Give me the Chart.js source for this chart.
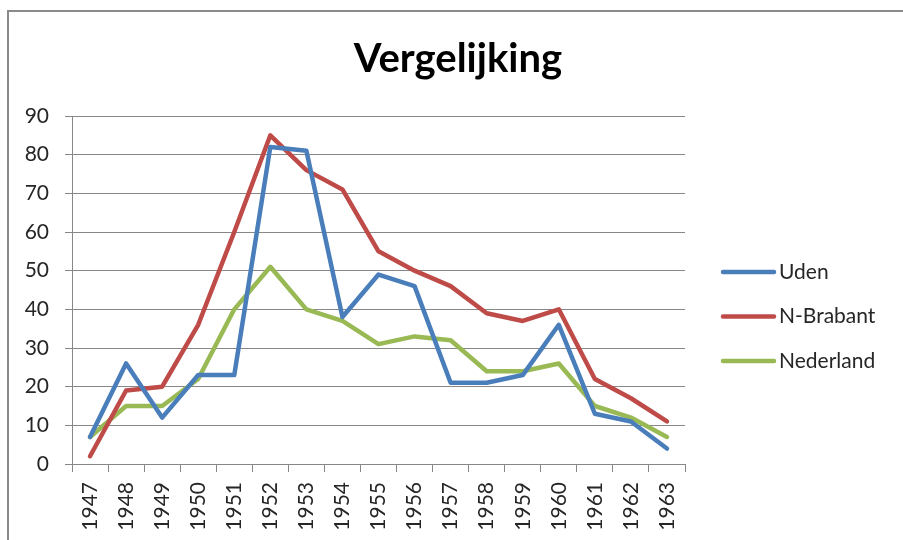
<!DOCTYPE html>
<html>
<head>
<meta charset="utf-8">
<script src="https://cdn.jsdelivr.net/npm/chart.js@4"></script>
<style>
  html, body { margin: 0; padding: 0; background: #fff; }
  #wrap { position: relative; width: 903px; height: 540px; overflow: hidden; }
  #frame { position: absolute; left: 7px; top: 10px; width: 1000px; height: 1000px;
           border-left: 2px solid #8a8a8a; border-top: 2px solid #8a8a8a; }
  canvas { position: absolute; left: 0; top: 0; }
</style>
</head>
<body>
<div id="wrap">
  <div id="frame"></div>
  <canvas id="c" width="903" height="540"></canvas>
</div>
<script>
const categories = ['1947','1948','1949','1950','1951','1952','1953','1954','1955','1956','1957','1958','1959','1960','1961','1962','1963'];
const uden      = [7, 26, 12, 23, 23, 82, 81, 38, 49, 46, 21, 21, 23, 36, 13, 11, 4];
const nBrabant  = [2, 19, 20, 36, 60, 85, 76, 71, 55, 50, 46, 39, 37, 40, 22, 17, 11];
const nederland = [7, 15, 15, 22, 40, 51, 40, 37, 31, 33, 32, 24, 24, 26, 15, 12, 7];
const seriesNames = ['Uden', 'N-Brabant', 'Nederland'];
const yTicks = [0, 10, 20, 30, 40, 50, 60, 70, 80, 90];

const colors = ['#4a7ebb', '#be4b48', '#98b954'];
const FONT = 'Lato, "Open Sans", sans-serif';
const TEXT = '#262626';
const GRID = '#878787';

const legendPlugin = {
  id: 'sideLegend',
  afterDraw(chart) {
    const ctx = chart.ctx;
    const area = chart.chartArea;
    const x0 = area.right + 38, x1 = area.right + 89;
    ctx.save();
    ctx.font = '21px ' + FONT;
    ctx.textBaseline = 'middle';
    ctx.textAlign = 'left';
    chart.data.datasets.forEach((ds, i) => {
      const y = 272 + i * 44.5;
      ctx.strokeStyle = ds.borderColor;
      ctx.lineWidth = 4.5;
      ctx.lineCap = 'round';
      ctx.beginPath();
      ctx.moveTo(x0, y);
      ctx.lineTo(x1, y);
      ctx.stroke();
      ctx.fillStyle = TEXT;
      ctx.fillText(ds.label, x1 + 5, y);
    });
    ctx.restore();
  }
};

const mkDs = (label, data, color) => ({
  label, data, borderColor: color, backgroundColor: color,
  borderWidth: 4.5, pointRadius: 0, pointHoverRadius: 0, tension: 0,
  borderCapStyle: 'round', borderJoinStyle: 'round', fill: false, yAxisID: 'y'
});

new Chart(document.getElementById('c'), {
  type: 'line',
  data: {
    labels: categories,
    datasets: [
      mkDs(seriesNames[0], uden, colors[0]),
      mkDs(seriesNames[1], nBrabant, colors[1]),
      mkDs(seriesNames[2], nederland, colors[2])
    ]
  },
  options: {
    responsive: false,
    animation: false,
    events: [],
    layout: { padding: { left: 13, right: 0, top: 0, bottom: 0 } },
    plugins: {
      legend: { display: false },
      tooltip: { enabled: false },
      title: {
        display: true,
        text: 'Vergelijking',
        color: '#000',
        font: { family: FONT, size: 40, weight: 'bold', lineHeight: 1.2 },
        padding: { top: 35, bottom: 33 }
      }
    },
    scales: {
      x: {
        type: 'category',
        offset: true,
        grid: { display: true, drawOnChartArea: false, drawTicks: true, tickLength: 8, color: GRID, offset: true },
        border: { display: true, color: GRID, width: 1 },
        ticks: { color: TEXT, font: { family: FONT, size: 21 }, maxRotation: 90, minRotation: 90, padding: 10, autoSkip: false },
        afterFit(s) { s.height = 76; }
      },
      y: {
        position: 'left',
        min: 0, max: 90,
        afterBuildTicks(s) { s.ticks = yTicks.map(v => ({ value: v })); },
        grid: { color: GRID, tickLength: 7, drawTicks: true },
        border: { display: true, color: GRID, width: 1 },
        ticks: { color: TEXT, font: { family: FONT, size: 21 }, padding: 16 },
        afterFit(s) { s.width = 59; }
      },
      y2: {
        position: 'right',
        display: true,
        grid: { display: false },
        border: { display: false },
        ticks: { display: false },
        afterFit(s) { s.width = 218; }
      }
    }
  },
  plugins: [legendPlugin]
});
</script>
</body>
</html>
